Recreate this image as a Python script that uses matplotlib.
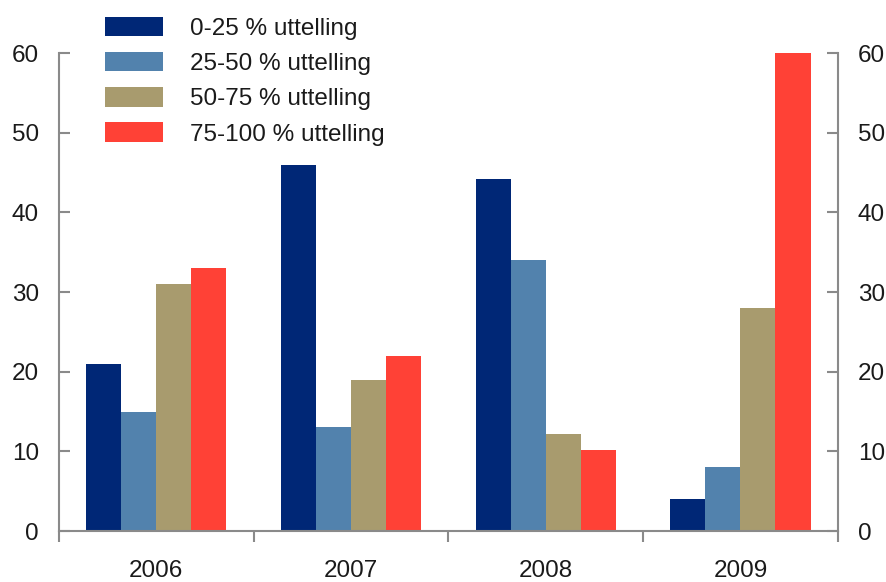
import numpy as np
import matplotlib.pyplot as plt
from matplotlib.ticker import FixedLocator

plt.rcParams['font.family'] = ['Liberation Sans', 'DejaVu Sans']

years = ["2006", "2007", "2008", "2009"]
series = ["0-25 % uttelling", "25-50 % uttelling", "50-75 % uttelling", "75-100 % uttelling"]
v_0_25 = [21, 46, 44.2, 4]
v_25_50 = [15, 13.1, 34, 8.1]
v_50_75 = [31, 19, 12.2, 28]
v_75_100 = [33, 22, 10.2, 60.2]
colors = ["#002776", "#5282AD", "#A89B6E", "#FF4136"]

values = [v_0_25, v_25_50, v_50_75, v_75_100]

fig = plt.figure(figsize=(8.86, 5.82), dpi=100)
ax = fig.add_axes([0.0666, 0.0876, 0.879, 0.821])

x = np.arange(len(years))
w = 0.18
for i, (vals, name, c) in enumerate(zip(values, series, colors)):
    ax.bar(x + (i - 1.5) * w, vals, w, color=c, label=name, zorder=2)

ax.set_xlim(-0.5, len(years) - 0.5)
ax.set_ylim(0, 60)
ax.set_yticks(range(0, 61, 10))
ax.set_xticks(x)
ax.set_xticklabels(years)
ax.xaxis.set_minor_locator(FixedLocator(np.arange(-0.5, len(years), 1.0)))

gray = "#8a8a8a"
ax.spines["top"].set_visible(False)
for s in ["left", "right", "bottom"]:
    ax.spines[s].set_color(gray)
    ax.spines[s].set_linewidth(1.5)

ax.tick_params(axis="y", direction="in", length=8, width=1.5, color=gray,
               labelsize=17.5, left=True, right=True, labelleft=True, labelright=True,
               pad=14.5, labelcolor="#1a1a1a")
ax.tick_params(axis="x", which="major", length=0, labelsize=17.5, pad=21, labelcolor="#1a1a1a")
ax.tick_params(axis="x", which="minor", direction="out", length=8, width=1.5, color=gray)

leg = ax.legend(loc="upper left", bbox_to_anchor=(0.108, 0.988), bbox_transform=fig.transFigure,
                frameon=False, fontsize=17.5, handlelength=2.35, handleheight=0.85,
                handletextpad=1.15, labelspacing=0.5, borderaxespad=0)
for t in leg.get_texts():
    t.set_color("#1a1a1a")

fig.savefig("out.png", dpi=100)
